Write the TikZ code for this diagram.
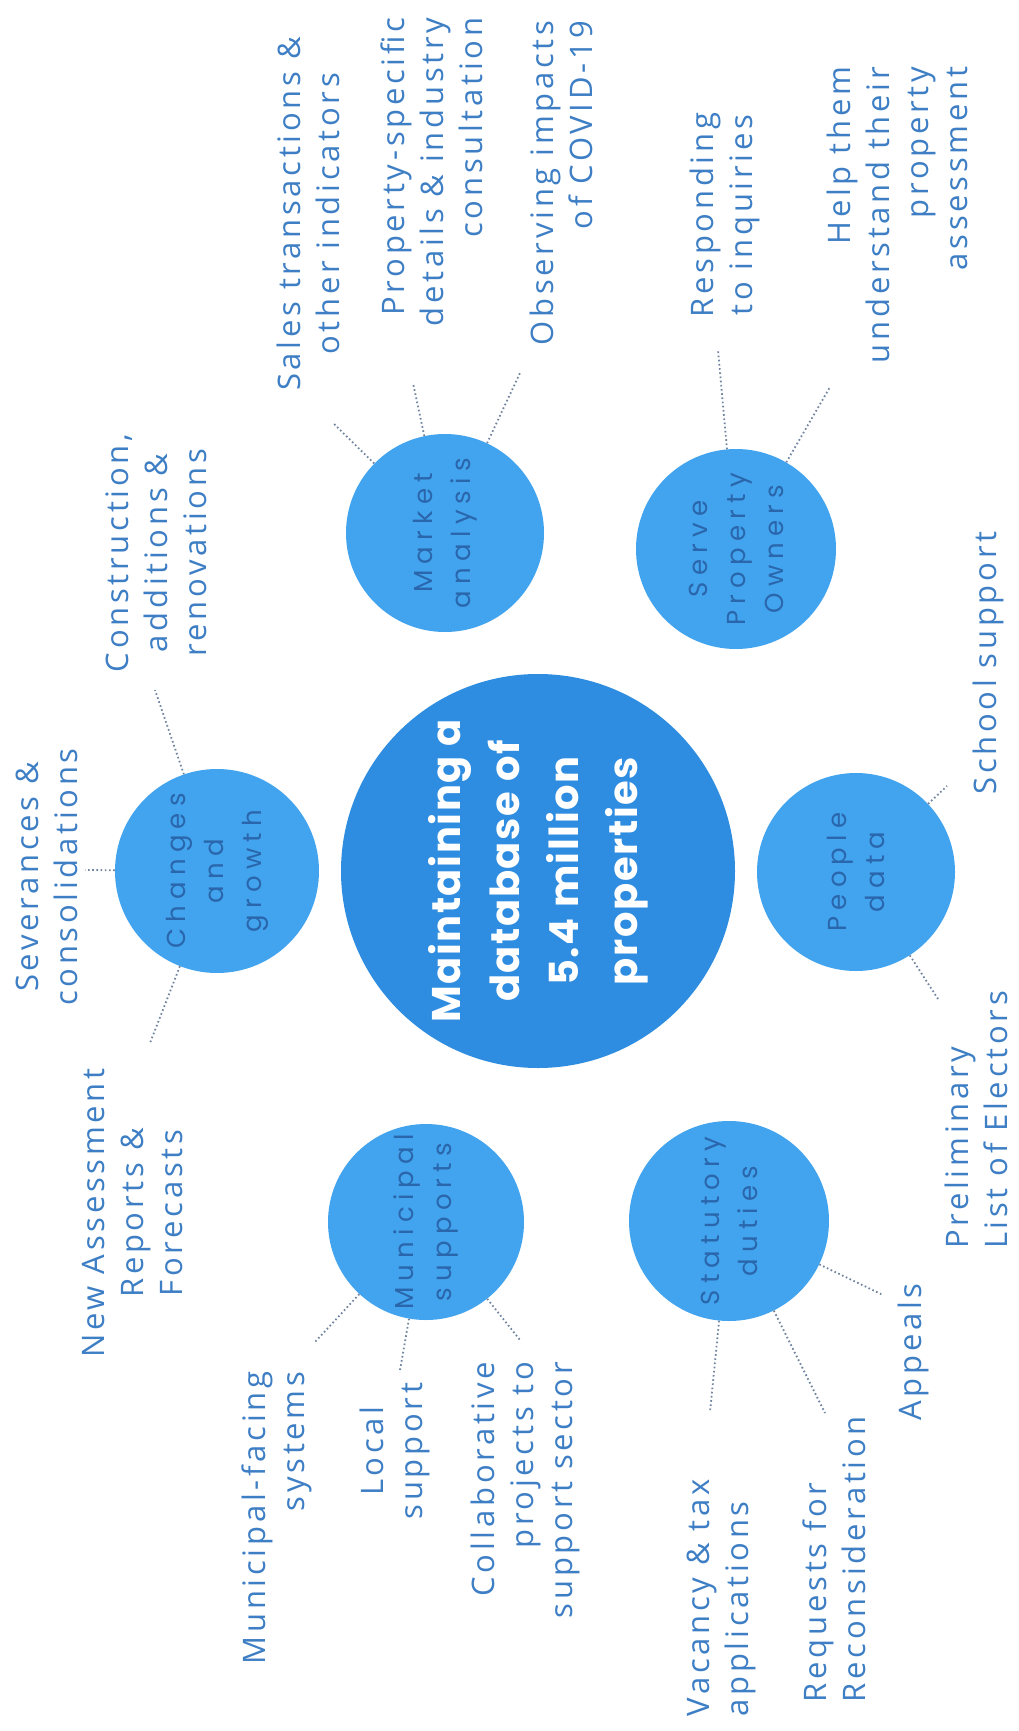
\documentclass[tikz,border=0pt]{standalone}
\usepackage{fontspec}
\setmainfont{Open Sans}[LetterSpace=12]
\newfontfamily\bubblefont{Poppins}[LetterSpace=24]
\newfontfamily\corefont{Poppins}[LetterSpace=4]

\definecolor{bubblefill}{RGB}{66,164,238}
\definecolor{corefill}{RGB}{46,141,224}
\definecolor{labelblue}{RGB}{61,126,196}
\definecolor{innerblue}{RGB}{42,102,172}
\definecolor{dotgrey}{RGB}{112,132,160}

\tikzset{
  bubble/.style={circle, fill=bubblefill, minimum size=200pt, inner sep=0pt,
    rotate=90, align=center, text=innerblue,
    font=\bubblefont\fontsize{26}{38}\selectfont},
  item/.style={rotate=90, inner sep=0pt, text=labelblue,
    font=\fontsize{31}{39}\selectfont},
  link/.style={draw=dotgrey, line width=1.8pt, dash pattern=on 1.6pt off 2.6pt}
}

\begin{document}
\begin{tikzpicture}[x=1pt, y=-1pt]
    % Page (pixel grid of the scan, y pointing down)
    \fill[white] (0,0) rectangle (1018,1731);

    % Central circle
    \node[bubble, fill=corefill, minimum size=394pt, text=white,
          font=\corefont\bfseries\fontsize{40}{59}\selectfont] (core) at (538,871)
        {Maintaining a\\database of\\5.4 million\\properties};

    % Satellite circles
    \node[bubble, minimum size=204pt] (changes) at (217,871) {Changes\\and\\growth};
    \node[bubble, minimum size=198pt] (market) at (445,533) {Market\\analysis};
    \node[bubble] (serve) at (736,549) {Serve\\Property\\Owners};
    \node[bubble, minimum size=198pt] (people) at (856,872) {People\\data};
    \node[bubble] (statutory) at (729,1221) {Statutory\\duties};
    \node[bubble, minimum size=196pt] (municipal) at (426,1222) {Municipal\\supports};

    % Labels round market analysis
    \node[item, align=center] (sales) at (308,214) {Sales transactions \&\\other indicators};
    \node[item, align=right] (specific) at (432,172) {Property-specific\\details \& industry\\consultation};
    \node[item, align=right] (covid) at (561,183) {Observing impacts\\of COVID-19};

    % Labels round property owners
    \node[item, align=center] (inquiries) at (725,215) {Responding\\to inquiries};
    \node[item, align=right] (helpthem) at (897,215) {Help them\\understand their\\property\\assessment};

    % Labels round changes and growth
    \node[item, align=center] (construction) at (156,553) {Construction,\\additions \&\\renovations};
    \node[item, align=center] (severances) at (47,877) {Severances \&\\consolidations};
    \node[item, align=center] (newreports) at (133,1213) {New Assessment\\Reports \&\\Forecasts};

    % Labels round municipal supports
    \node[item, align=right] (munisystems) at (277,1518) {Municipal-facing\\systems};
    \node[item, align=center] (localsupport) at (395,1451) {Local\\support};
    \node[item, align=right] (collab) at (525,1490) {Collaborative\\projects to\\support sector};

    % Labels round statutory duties
    \node[item, align=left] (vacancy) at (721,1598) {Vacancy \& tax\\applications};
    \node[item, align=left] (requests) at (834,1559) {Requests for\\Reconsideration};
    \node[item] (appeals) at (913,1352) {Appeals};

    % Labels round people data
    \node[item, align=left] (electors) at (976,1120) {Preliminary\\List of Electors};
    \node[item] (school) at (988,663) {School support};

    % Free ends of the dotted links
    \coordinate (s1) at (333,423);
    \coordinate (s2) at (413,383);
    \coordinate (s3) at (520,373);
    \coordinate (r1) at (718,350);
    \coordinate (r2) at (830,387);
    \coordinate (c1) at (155,690);
    \coordinate (c2) at (85,870);
    \coordinate (c3) at (150,1043);
    \coordinate (m1) at (315,1342);
    \coordinate (m2) at (400,1370);
    \coordinate (m3) at (520,1340);
    \coordinate (d1) at (710,1412);
    \coordinate (d2) at (825,1413);
    \coordinate (d3) at (883,1295);
    \coordinate (p1) at (947,786);
    \coordinate (p2) at (938,999);

    % Dotted links
    \draw[link] (market) -- (s1);
    \draw[link] (market) -- (s2);
    \draw[link] (market) -- (s3);
    \draw[link] (serve) -- (r1);
    \draw[link] (serve) -- (r2);
    \draw[link] (changes) -- (c1);
    \draw[link] (changes) -- (c2);
    \draw[link] (changes) -- (c3);
    \draw[link] (municipal) -- (m1);
    \draw[link] (municipal) -- (m2);
    \draw[link] (municipal) -- (m3);
    \draw[link] (statutory) -- (d1);
    \draw[link] (statutory) -- (d2);
    \draw[link] (statutory) -- (d3);
    \draw[link] (people) -- (p1);
    \draw[link] (people) -- (p2);
\end{tikzpicture}
\end{document}
